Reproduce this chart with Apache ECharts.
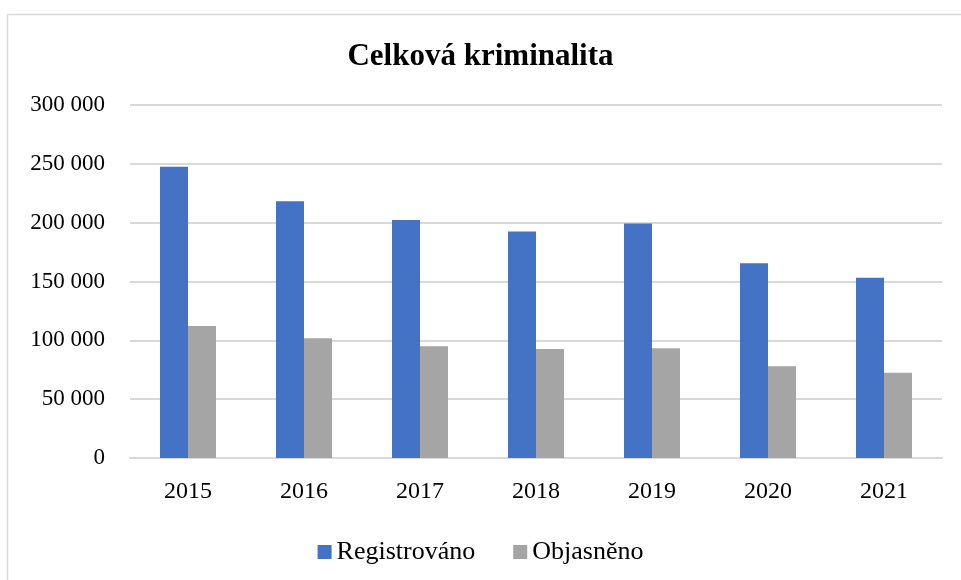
<!DOCTYPE html>
<html>
<head>
<meta charset="utf-8">
<script src="https://cdn.jsdelivr.net/npm/echarts@6/dist/echarts.min.js"></script>
<style>
  html, body { margin: 0; padding: 0; background: #fff; }
  #chart { width: 961px; height: 580px; }
</style>
</head>
<body>
<div id="chart"></div>
<script>
const years = ["2015", "2016", "2017", "2018", "2019", "2020", "2021"];
const registrovano = [247600, 218200, 202300, 192400, 199200, 165500, 153200];
const objasneno = [112200, 101700, 94900, 92700, 93200, 77900, 72500];
const yTicks = [0, 50000, 100000, 150000, 200000, 250000, 300000];

const font = "Liberation Serif";

function fmt(v) {
  return String(v).replace(/\B(?=(\d{3})+(?!\d))/g, " ");
}

const chart = echarts.init(document.getElementById("chart"));
chart.setOption({
  animation: false,
  textStyle: { fontFamily: font },
  graphic: [
    {
      type: "rect",
      left: 5,
      top: 12,
      shape: { width: 1000, height: 1000 },
      style: { fill: "none", stroke: "#d9d9d9", lineWidth: 1.5 },
      silent: true,
    },
  ],
  title: {
    text: "Celková kriminalita",
    left: "center",
    top: 36,
    textStyle: { fontFamily: font, fontSize: 31, fontWeight: "bold", color: "#000" },
  },
  legend: {
    top: 534,
    left: "center",
    itemWidth: 14,
    itemHeight: 14,
    itemGap: 38,
    icon: "rect",
    textStyle: { fontFamily: font, fontSize: 26, color: "#000" },
    data: ["Registrováno", "Objasněno"],
  },
  grid: {
    left: 130,
    right: 19,
    top: 105,
    bottom: 122,
  },
  xAxis: {
    type: "category",
    data: years,
    axisTick: { show: false },
    axisLine: { lineStyle: { color: "#d9d9d9", width: 2 } },
    axisLabel: { color: "#000", fontSize: 24, margin: 22, fontFamily: font },
  },
  yAxis: {
    type: "value",
    min: yTicks[0],
    max: yTicks[yTicks.length - 1],
    interval: 50000,
    axisLine: { show: false },
    axisTick: { show: false },
    splitLine: { lineStyle: { color: "#d9d9d9", width: 2 } },
    axisLabel: {
      color: "#000",
      fontSize: 23,
      margin: 25,
      fontFamily: font,
      formatter: (v) => fmt(v),
    },
  },
  series: [
    {
      name: "Registrováno",
      type: "bar",
      data: registrovano,
      barWidth: 28,
      barGap: "0%",
      itemStyle: { color: "#4472C4" },
    },
    {
      name: "Objasněno",
      type: "bar",
      data: objasneno,
      barWidth: 28,
      barGap: "0%",
      itemStyle: { color: "#A5A5A5" },
    },
  ],
});
</script>
</body>
</html>
